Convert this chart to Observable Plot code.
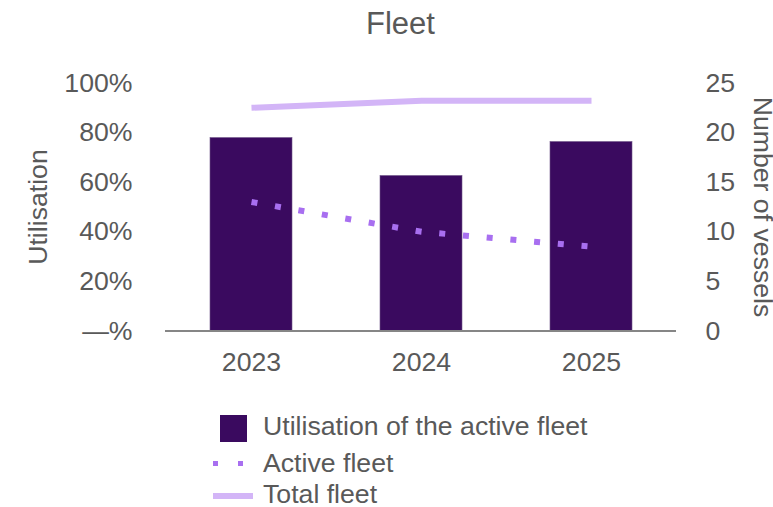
<!DOCTYPE html>
<html>
<head>
<meta charset="utf-8">
<script src="https://cdn.jsdelivr.net/npm/d3@7"></script>
<script src="https://cdn.jsdelivr.net/npm/@observablehq/plot@0.6"></script>
<style>
  html, body { margin: 0; padding: 0; background: #fff; overflow: hidden; }
  #wrap { width: 773px; height: 507px; position: relative; font-family: 'Liberation Sans', Arial, sans-serif; color: #595959; }
  #title { height: 50px; line-height: 48px; font-size: 31px; text-align: center; padding-left: 28px; box-sizing: border-box; width: 773px; }
  #chart { height: 350px; }
  #legend { position: relative; height: 107px; font-size: 26.67px; }
  #legend .t { position: absolute; left: 263px; line-height: 24px; white-space: nowrap; }
  #legend .sw { position: absolute; }
</style>
</head>
<body>
<div id="wrap">
  <div id="title">Fleet</div>
  <div id="chart"></div>
  <div id="legend"></div>
</div>
<script>
// ---- data ----
const years = ["2023", "2024", "2025"];
const utilisation = [77.8, 62.5, 76.2];      // % of active fleet utilised
const activeFleet = [13.0, 10.0, 8.5];       // number of vessels
const totalFleet = [22.5, 23.2, 23.2];       // number of vessels
const leftTicks = [0, 20, 40, 60, 80, 100];
const leftTickLabels = ["—%", "20%", "40%", "60%", "80%", "100%"];
const rightTickLabels = ["0", "5", "10", "15", "20", "25"];
const seriesNames = ["Utilisation of the active fleet", "Active fleet", "Total fleet"];
const axisTitles = ["Utilisation", "Number of vessels"];

const colors = { bar: "#3A0A5F", active: "#A86FF0", total: "#D3B5F7", axis: "#868686" };
const vesselsToPct = 100 / 25; // right axis 0–25 maps onto left 0–100%

const rows = years.map((y, i) => ({
  year: y, util: utilisation[i], active: activeFleet[i], total: totalFleet[i]
}));

const chart = Plot.plot({
  width: 773,
  height: 350,
  marginLeft: 165,
  marginRight: 97,
  marginTop: 32.5,
  marginBottom: 69.5,
  style: {
    fontFamily: "'Liberation Sans', Arial, sans-serif",
    fontSize: "26.67px",
    color: "#595959",
    background: "white",
    overflow: "visible"
  },
  x: { type: "band", domain: years, paddingInner: 0.52, paddingOuter: 0.26 },
  y: { domain: [0, 100] },
  marks: [
    Plot.barY(rows, { x: "year", y: "util", fill: colors.bar, stroke: "#6e5488", strokeWidth: 0.6 }),
    Plot.line(rows, { x: "year", y: d => d.total * vesselsToPct, stroke: colors.total, strokeWidth: 6, strokeLinecap: "butt" }),
    Plot.line(rows, { x: "year", y: d => d.active * vesselsToPct, stroke: colors.active, strokeWidth: 6, strokeDasharray: "6,17.8", strokeLinecap: "butt" }),
    Plot.ruleY([0], { stroke: colors.axis, strokeWidth: 2 }),
    Plot.axisX({ tickSize: 0, tickPadding: 21, label: null }),
    Plot.axisY({ anchor: "left", ticks: leftTicks, tickSize: 0, tickPadding: 33, label: null,
      tickFormat: d => leftTickLabels[leftTicks.indexOf(d)] }),
    Plot.axisY({ anchor: "right", ticks: leftTicks, tickSize: 0, tickPadding: 29, label: null,
      tickFormat: d => rightTickLabels[leftTicks.indexOf(d)] }),
    Plot.text([axisTitles[0]], { frameAnchor: "left", dx: -127.5, rotate: -90, textAnchor: "middle" }),
    Plot.text([axisTitles[1]], { frameAnchor: "right", dx: 86.5, rotate: 90, textAnchor: "middle" })
  ]
});
document.getElementById("chart").appendChild(chart);

// ---- legend ----
const lg = document.getElementById("legend");
function add(cls, css, text) {
  const el = document.createElement("div");
  el.className = cls;
  Object.assign(el.style, css);
  if (text) el.textContent = text;
  lg.appendChild(el);
}
add("sw", { left: "220px", top: "15px", width: "27px", height: "27px", background: colors.bar });
add("t", { top: "14px" }, seriesNames[0]);
add("sw", { left: "213px", top: "61px", width: "5px", height: "5px", background: colors.active });
add("sw", { left: "238px", top: "61px", width: "5px", height: "5px", background: colors.active });
add("t", { top: "50.5px" }, seriesNames[1]);
add("sw", { left: "213px", top: "93px", width: "40px", height: "6px", background: colors.total });
add("t", { top: "82px" }, seriesNames[2]);
</script>
</body>
</html>
